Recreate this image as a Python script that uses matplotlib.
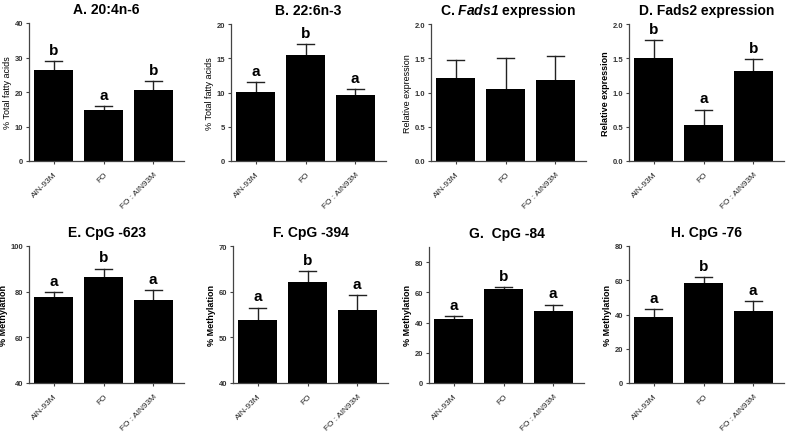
import matplotlib
matplotlib.use("Agg")
import matplotlib.pyplot as plt

plt.rcParams["font.family"] = ["Liberation Sans", "DejaVu Sans"]
# mathtext is only used for the italic gene name in panel C
plt.rcParams["mathtext.fontset"] = "custom"
plt.rcParams["mathtext.it"] = "Liberation Sans:italic:bold"
plt.rcParams["mathtext.rm"] = "Liberation Sans:italic:bold"

groups = ["AIN-93M", "FO", "FO : AIN93M"]

# panel data: means, upper error (top of whisker), significance letters
titles = ["A. 20:4n-6", "B. 22:6n-3", r"C. $\mathrm{Fads1}$ expression", "D. Fads2 expression",
          "E. CpG -623", "F. CpG -394", "G.  CpG -84", "H. CpG -76"]
ylabels = ["% Total fatty acids", "% Total fatty acids", "Relative expression", "Relative expression",
           "% Methylation", "% Methylation", "% Methylation", "% Methylation"]
means = [
    [26.3, 14.8, 20.6],
    [10.1, 15.5, 9.65],
    [1.21, 1.05, 1.18],
    [1.51, 0.53, 1.32],
    [77.5, 86.5, 76.2],
    [53.8, 62.1, 55.9],
    [42.4, 62.3, 47.5],
    [38.5, 58.3, 42.3],
]
err_top = [
    [28.9, 15.8, 23.1],
    [11.55, 17.05, 10.5],
    [1.48, 1.50, 1.54],
    [1.76, 0.75, 1.49],
    [79.8, 90.1, 80.7],
    [56.5, 64.5, 59.2],
    [44.2, 63.2, 51.9],
    [43.2, 62.0, 47.8],
]
letters = [
    ["b", "a", "b"],
    ["a", "b", "a"],
    None,
    ["b", "a", "b"],
    ["a", "b", "a"],
    ["a", "b", "a"],
    ["a", "b", "a"],
    ["a", "b", "a"],
]
ylims = [(0, 40), (0, 20), (0, 2.0), (0, 2.0), (40, 100), (40, 70), (0, 90), (0, 80)]
yticks = [
    [0, 10, 20, 30, 40],
    [0, 5, 10, 15, 20],
    [0.0, 0.5, 1.0, 1.5, 2.0],
    [0.0, 0.5, 1.0, 1.5, 2.0],
    [40, 60, 80, 100],
    [40, 50, 60, 70],
    [0, 20, 40, 60, 80],
    [0, 20, 40, 60, 80],
]
ytick_fmt = ["{:.0f}", "{:.0f}", "{:.1f}", "{:.1f}", "{:.0f}", "{:.0f}", "{:.0f}", "{:.0f}"]

W, H = 796, 439
fig = plt.figure(figsize=(W / 100, H / 100), dpi=100)

lefts = [29, 231, 431, 629, 29, 233, 429, 629]
tops = [24, 25, 25, 25, 247, 247, 248, 247]
bottoms = [162, 162, 162, 162, 384, 384, 384, 384]
width_px = 155

x = [0, 1, 2]
for i in range(8):
    l, t, b = lefts[i], tops[i], bottoms[i]
    ax = fig.add_axes([l / W, 1 - b / H, width_px / W, (b - t) / H])
    lo = ylims[i][0]
    ax.bar(x, [m - lo for m in means[i]], bottom=lo, width=0.78, color="black", zorder=2)
    for xi, m, e in zip(x, means[i], err_top[i]):
        ax.plot([xi, xi], [m, e], color="#222222", lw=1.0, zorder=1)
        ax.plot([xi - 0.17, xi + 0.17], [e, e], color="#222222", lw=1.0, zorder=1)
    if letters[i]:
        for xi, e, s in zip(x, err_top[i], letters[i]):
            ax.annotate(s, (xi, e), xytext=(0, 3), textcoords="offset points",
                        ha="center", va="bottom", fontsize=11, fontweight="bold")
    ax.set_xlim(-0.5, 2.62)
    ax.set_ylim(*ylims[i])
    ax.set_yticks(yticks[i])
    ax.set_yticklabels([ytick_fmt[i].format(v) for v in yticks[i]], fontsize=5.5,
                       fontweight="bold", color="#333333")
    ax.set_xticks(x)
    ax.set_xticklabels(groups, rotation=45, ha="right", rotation_mode="anchor",
                       fontsize=6, color="#222222")
    ax.tick_params(length=2.5, width=0.8, color="#444444", pad=1.5)
    ax.tick_params(axis="x", pad=4)
    for side in ("top", "right"):
        ax.spines[side].set_visible(False)
    for side in ("left", "bottom"):
        ax.spines[side].set_linewidth(0.9)
        ax.spines[side].set_color("#444444")
    ax.set_ylabel(ylabels[i], fontsize=6.5, labelpad=2,
                  fontweight="bold" if i in (3, 4, 5, 6, 7) else "normal")
    ax.set_title(titles[i], fontsize=10, fontweight="bold", pad=7)

fig.savefig("out.png", dpi=100)
